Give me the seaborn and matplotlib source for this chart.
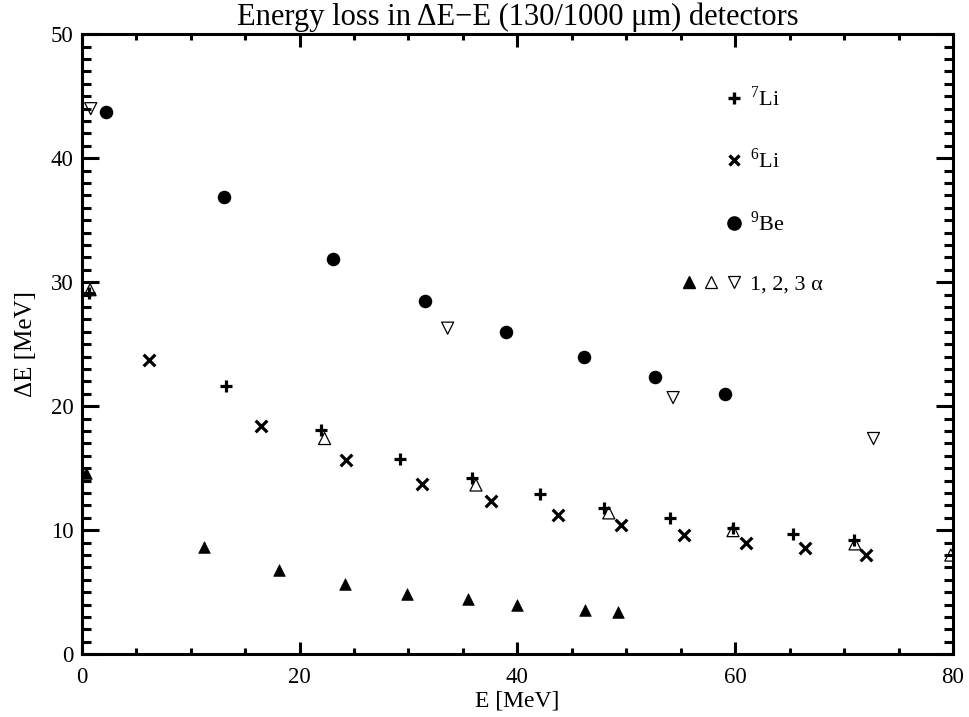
import pandas as pd
import seaborn as sns
import matplotlib.pyplot as plt
from matplotlib.lines import Line2D
from matplotlib.legend_handler import HandlerTuple
from matplotlib.ticker import MultipleLocator

# residual energy E [MeV] and energy loss dE [MeV]
li7_E = [0.7, 13.25, 21.95, 29.2, 35.8, 42.1, 48.0, 54.0, 59.8, 65.3, 70.9]
li7_dE = [29.1, 21.6, 18.1, 15.75, 14.2, 12.9, 11.8, 10.97, 10.2, 9.7, 9.2]

li6_E = [6.2, 16.5, 24.3, 31.2, 37.6, 43.7, 49.5, 55.3, 61.0, 66.4, 72.0]
li6_dE = [23.7, 18.4, 15.7, 13.75, 12.4, 11.2, 10.4, 9.6, 9.0, 8.55, 8.0]

be9_E = [2.2, 13.1, 23.1, 31.5, 39.0, 46.1, 52.6, 59.1]
be9_dE = [43.75, 36.9, 31.85, 28.5, 26.0, 24.0, 22.4, 21.0]

a1_E = [0.4, 11.2, 18.1, 24.2, 29.9, 35.5, 40.0, 46.2, 49.25]
a1_dE = [14.6, 8.65, 6.8, 5.67, 4.9, 4.43, 3.97, 3.6, 3.4]

a2_E = [0.77, 22.3, 36.2, 48.4, 59.8, 71.0, 79.8]
a2_dE = [29.4, 17.4, 13.65, 11.4, 9.97, 8.9, 8.0]

a3_E = [0.83, 33.6, 54.3, 72.7]
a3_dE = [44.0, 26.3, 20.7, 17.4]

legend_labels = [r'$^{7}$Li', r'$^{6}$Li', r'$^{9}$Be', '1, 2, 3 α']


def frame(E, dE, name):
    return pd.DataFrame({'E': E, 'dE': dE, 'species': name})


df = pd.concat([
    frame(li7_E, li7_dE, '7Li'),
    frame(li6_E, li6_dE, '6Li'),
    frame(be9_E, be9_dE, '9Be'),
    frame(a1_E, a1_dE, '1a'),
    frame(a2_E, a2_dE, '2a'),
    frame(a3_E, a3_dE, '3a'),
], ignore_index=True)

sns.set_style('ticks')
plt.rcParams['font.family'] = ['Liberation Serif', 'DejaVu Serif']
plt.rcParams['mathtext.fontset'] = 'custom'
plt.rcParams['mathtext.rm'] = 'Liberation Serif'
plt.rcParams['axes.unicode_minus'] = True
plt.rcParams['text.color'] = 'black'
plt.rcParams['axes.labelcolor'] = 'black'
plt.rcParams['xtick.color'] = 'black'
plt.rcParams['ytick.color'] = 'black'

fig = plt.figure(figsize=(9.69, 7.17), dpi=100)
ax = fig.add_axes([0.0843, 0.0875, 0.8992, 0.8647])

# open triangles first so the crosses sit on top of them
sns.scatterplot(data=df[df.species == '1a'], x='E', y='dE', marker='^', s=70,
                color='black', edgecolor='black', linewidth=0.5, ax=ax, legend=False)
sns.scatterplot(data=df[df.species == '2a'], x='E', y='dE', marker='^', s=75,
                facecolor='none', edgecolor='black', linewidth=0.9, ax=ax, legend=False)
sns.scatterplot(data=df[df.species == '3a'], x='E', y='dE', marker='v', s=75,
                facecolor='none', edgecolor='black', linewidth=0.9, ax=ax, legend=False)
sns.scatterplot(data=df[df.species == '7Li'], x='E', y='dE', marker='+', s=85,
                color='black', linewidth=2.3, ax=ax, legend=False)
sns.scatterplot(data=df[df.species == '6Li'], x='E', y='dE', marker='x', s=70,
                color='black', linewidth=2.3, ax=ax, legend=False)
sns.scatterplot(data=df[df.species == '9Be'], x='E', y='dE', marker='o', s=95,
                color='black', edgecolor='black', linewidth=0, ax=ax, legend=False)

ax.set_xlim(0, 80)
ax.set_ylim(0, 50)
ax.xaxis.set_major_locator(MultipleLocator(20))
ax.xaxis.set_minor_locator(MultipleLocator(5))
ax.yaxis.set_major_locator(MultipleLocator(10))
ax.yaxis.set_minor_locator(MultipleLocator(1))

for side in ['left', 'right', 'top', 'bottom']:
    ax.spines[side].set_visible(True)
    ax.spines[side].set_linewidth(2.2)
    ax.spines[side].set_color('black')
ax.tick_params(axis='both', which='both', direction='in', top=True, right=True,
               color='black', width=2.2, labelsize=16.5, labelcolor='black')
ax.tick_params(axis='y', which='major', length=12.5, pad=6)
ax.tick_params(axis='y', which='minor', length=6.5)
ax.tick_params(axis='x', which='major', length=9, pad=9)
ax.tick_params(axis='x', which='minor', length=4.5)

ax.set_xlabel('E [MeV]', fontsize=17, labelpad=2)
ax.set_ylabel('ΔE [MeV]', fontsize=18, labelpad=10)
ax.set_title('Energy loss in ΔE\u2212E (130/1000 μm) detectors', fontsize=22, pad=7)

# legend: single markers sit in the right third of the key box
blank = Line2D([], [], linestyle='none')
h_li7 = Line2D([], [], linestyle='none', marker='+', color='black', markersize=8.5, markeredgewidth=2.4)
h_li6 = Line2D([], [], linestyle='none', marker='x', color='black', markersize=7.5, markeredgewidth=2.4)
h_be9 = Line2D([], [], linestyle='none', marker='o', color='black', markersize=9.5)
h_a1 = Line2D([], [], linestyle='none', marker='^', color='black', markersize=8.5)
h_a2 = Line2D([], [], linestyle='none', marker='^', markerfacecolor='none',
              markeredgecolor='black', markersize=9, markeredgewidth=0.9)
h_a3 = Line2D([], [], linestyle='none', marker='v', markerfacecolor='none',
              markeredgecolor='black', markersize=9, markeredgewidth=0.9)
handles = [(blank, blank, h_li7), (blank, blank, h_li6), (blank, blank, h_be9),
           (h_a1, h_a2, h_a3)]
ax.legend(handles, legend_labels, handler_map={tuple: HandlerTuple(ndivide=None, pad=0)},
          loc='upper left', bbox_to_anchor=(0.6845, 0.917), frameon=False,
          fontsize=16, handlelength=3.0, handletextpad=0.25, labelspacing=1.72,
          borderpad=0, borderaxespad=0)

fig.savefig('out.png', dpi=100)
